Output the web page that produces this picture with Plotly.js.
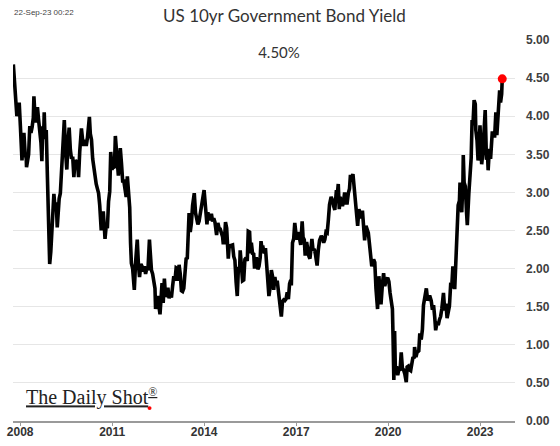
<!DOCTYPE html>
<html>
<head>
<meta charset="utf-8">
<script src="https://cdn.plot.ly/plotly-3.0.1.min.js"></script>
<style>html,body{margin:0;padding:0;background:#fff;}#chart{width:560px;height:446px;}</style>
</head>
<body>
<div id="chart"></div>
<script>
// US 10yr Government Bond Yield, approx. semi-monthly readings (%)
const dates = [
"2007-10-12","2007-10-26","2007-11-09","2007-11-23","2007-12-07","2007-12-21",
"2008-01-04","2008-01-18","2008-01-23","2008-02-01","2008-02-15","2008-02-29","2008-03-14","2008-03-17","2008-03-28","2008-04-11","2008-04-25","2008-05-09","2008-05-23","2008-06-06","2008-06-13","2008-06-27","2008-07-11","2008-07-25","2008-08-08","2008-08-22","2008-09-05","2008-09-16","2008-09-26","2008-10-10","2008-10-14","2008-10-24","2008-11-07","2008-11-21","2008-12-05","2008-12-18","2008-12-31",
"2009-01-09","2009-01-23","2009-02-06","2009-02-20","2009-03-06","2009-03-18","2009-03-27","2009-04-10","2009-04-24","2009-05-08","2009-05-22","2009-06-10","2009-06-26","2009-07-10","2009-07-24","2009-08-07","2009-08-21","2009-09-04","2009-09-18","2009-10-02","2009-10-16","2009-10-30","2009-11-13","2009-11-27","2009-12-11","2009-12-31",
"2010-01-15","2010-01-29","2010-02-12","2010-02-26","2010-03-12","2010-03-26","2010-04-05","2010-04-16","2010-04-30","2010-05-14","2010-05-28","2010-06-11","2010-06-25","2010-07-09","2010-07-23","2010-08-06","2010-08-24","2010-09-03","2010-09-17","2010-10-01","2010-10-08","2010-10-22","2010-11-05","2010-11-19","2010-12-03","2010-12-15","2010-12-31",
"2011-01-14","2011-01-28","2011-02-08","2011-02-18","2011-03-04","2011-03-16","2011-04-01","2011-04-08","2011-04-22","2011-05-06","2011-05-20","2011-06-03","2011-06-17","2011-07-01","2011-07-15","2011-07-29","2011-08-08","2011-08-18","2011-09-02","2011-09-22","2011-10-07","2011-10-27","2011-11-10","2011-11-23","2011-12-09","2011-12-23",
"2012-01-06","2012-01-20","2012-02-03","2012-02-17","2012-03-02","2012-03-20","2012-03-30","2012-04-13","2012-04-27","2012-05-11","2012-05-25","2012-06-01","2012-06-15","2012-06-29","2012-07-13","2012-07-24","2012-08-03","2012-08-17","2012-08-31","2012-09-14","2012-09-28","2012-10-12","2012-10-26","2012-11-09","2012-11-23","2012-12-07","2012-12-21",
"2013-01-04","2013-01-18","2013-02-01","2013-02-15","2013-03-01","2013-03-08","2013-03-22","2013-04-05","2013-04-19","2013-05-03","2013-05-17","2013-05-31","2013-06-14","2013-06-24","2013-07-05","2013-07-19","2013-08-02","2013-08-16","2013-09-05","2013-09-20","2013-10-04","2013-10-18","2013-11-01","2013-11-15","2013-12-06","2013-12-31",
"2014-01-10","2014-01-24","2014-02-03","2014-02-14","2014-02-28","2014-03-14","2014-03-28","2014-04-11","2014-04-25","2014-05-09","2014-05-29","2014-06-13","2014-06-27","2014-07-11","2014-07-25","2014-08-08","2014-08-15","2014-08-29","2014-09-12","2014-09-26","2014-10-15","2014-10-24","2014-11-07","2014-11-21","2014-12-05","2014-12-19",
"2015-01-02","2015-01-16","2015-01-30","2015-02-13","2015-02-27","2015-03-06","2015-03-20","2015-04-03","2015-04-17","2015-05-01","2015-05-15","2015-05-29","2015-06-10","2015-06-26","2015-07-07","2015-07-17","2015-07-31","2015-08-14","2015-08-24","2015-09-04","2015-09-18","2015-10-02","2015-10-16","2015-10-30","2015-11-09","2015-11-20","2015-12-04","2015-12-18",
"2016-01-01","2016-01-15","2016-01-29","2016-02-11","2016-02-26","2016-03-11","2016-03-25","2016-04-08","2016-04-22","2016-05-06","2016-05-20","2016-06-03","2016-06-17","2016-06-27","2016-07-08","2016-07-22","2016-08-05","2016-08-19","2016-09-02","2016-09-16","2016-09-30","2016-10-14","2016-10-28","2016-11-04","2016-11-18","2016-12-02","2016-12-15","2016-12-30",
"2017-01-13","2017-01-27","2017-02-10","2017-02-24","2017-03-13","2017-03-24","2017-04-07","2017-04-18","2017-05-05","2017-05-19","2017-06-02","2017-06-14","2017-06-30","2017-07-07","2017-07-21","2017-08-04","2017-08-18","2017-09-07","2017-09-22","2017-10-06","2017-10-27","2017-11-10","2017-11-24","2017-12-08","2017-12-22",
"2018-01-05","2018-01-19","2018-02-02","2018-02-21","2018-03-09","2018-03-23","2018-04-06","2018-04-25","2018-05-04","2018-05-17","2018-05-29","2018-06-08","2018-06-22","2018-07-06","2018-07-20","2018-08-01","2018-08-17","2018-08-31","2018-09-14","2018-09-28","2018-10-09","2018-10-19","2018-11-08","2018-11-21","2018-12-07","2018-12-21",
"2019-01-03","2019-01-18","2019-02-01","2019-02-15","2019-03-01","2019-03-15","2019-03-27","2019-04-12","2019-04-26","2019-05-10","2019-05-24","2019-06-07","2019-06-20","2019-07-12","2019-07-26","2019-08-09","2019-08-28","2019-09-13","2019-09-27","2019-10-08","2019-10-25","2019-11-08","2019-11-22","2019-12-06","2019-12-27",
"2020-01-10","2020-01-24","2020-02-07","2020-02-21","2020-02-28","2020-03-09","2020-03-18","2020-03-27","2020-04-10","2020-04-24","2020-05-08","2020-05-22","2020-06-05","2020-06-19","2020-07-03","2020-07-17","2020-08-04","2020-08-14","2020-08-28","2020-09-11","2020-09-25","2020-10-09","2020-10-23","2020-11-06","2020-11-11","2020-11-27","2020-12-11","2020-12-31",
"2021-01-12","2021-01-29","2021-02-12","2021-02-25","2021-03-12","2021-03-31","2021-04-16","2021-04-30","2021-05-14","2021-05-28","2021-06-11","2021-06-25","2021-07-09","2021-07-20","2021-08-06","2021-08-20","2021-09-03","2021-09-17","2021-10-01","2021-10-21","2021-11-05","2021-11-19","2021-12-03","2021-12-17","2021-12-31",
"2022-01-14","2022-01-28","2022-02-10","2022-02-25","2022-03-04","2022-03-18","2022-04-01","2022-04-14","2022-04-29","2022-05-06","2022-05-20","2022-05-27","2022-06-10","2022-06-14","2022-06-24","2022-07-08","2022-07-22","2022-08-01","2022-08-19","2022-09-02","2022-09-16","2022-09-27","2022-10-07","2022-10-21","2022-11-04","2022-11-10","2022-11-25","2022-12-07","2022-12-16","2022-12-30",
"2023-01-13","2023-01-19","2023-02-03","2023-02-17","2023-03-02","2023-03-17","2023-03-31","2023-04-06","2023-04-21","2023-05-05","2023-05-19","2023-05-26","2023-06-09","2023-06-23","2023-07-07","2023-07-19","2023-08-04","2023-08-21","2023-09-01","2023-09-14","2023-09-21"
];
const yields = [
4.68,4.40,4.22,4.00,4.10,4.18,
3.87,3.65,3.42,3.60,3.78,3.52,3.44,3.33,3.45,3.50,3.87,3.78,3.86,3.98,4.26,3.98,3.92,4.12,3.95,3.83,3.65,3.41,3.85,3.87,4.05,3.70,3.82,3.20,2.56,2.06,2.22,
2.39,2.62,2.98,2.79,2.87,2.54,2.76,2.92,2.99,3.28,3.45,3.95,3.52,3.30,3.66,3.85,3.56,3.44,3.47,3.20,3.42,3.40,3.42,3.20,3.54,3.84,
3.68,3.61,3.69,3.61,3.71,3.86,3.99,3.77,3.69,3.44,3.30,3.24,3.11,3.05,2.99,2.83,2.50,2.70,2.75,2.52,2.39,2.56,2.53,2.88,3.01,3.53,3.30,
3.33,3.32,3.74,3.58,3.49,3.22,3.45,3.58,3.38,3.15,3.15,3.00,2.94,3.21,2.91,2.80,2.34,2.07,2.00,1.72,2.08,2.38,2.05,1.89,2.06,2.03,
1.96,2.03,1.93,2.00,1.98,2.38,2.21,1.98,1.93,1.84,1.74,1.47,1.59,1.64,1.49,1.40,1.57,1.81,1.55,1.87,1.63,1.66,1.75,1.61,1.69,1.62,1.77,
1.90,1.84,2.01,2.00,1.84,2.05,1.93,1.71,1.70,1.74,1.95,2.13,2.14,2.55,2.73,2.48,2.60,2.83,2.99,2.73,2.65,2.58,2.62,2.70,2.86,3.03,
2.86,2.72,2.58,2.74,2.65,2.65,2.72,2.62,2.66,2.61,2.44,2.60,2.53,2.52,2.47,2.42,2.34,2.34,2.61,2.53,2.13,2.27,2.30,2.31,2.31,2.16,
2.11,1.83,1.64,2.02,2.00,2.24,1.93,1.84,1.85,2.12,2.14,2.10,2.49,2.48,2.20,2.34,2.20,2.19,2.00,2.13,2.13,1.99,2.03,2.14,2.36,2.26,2.27,2.20,
2.27,2.03,1.92,1.64,1.76,1.98,1.90,1.72,1.89,1.78,1.84,1.70,1.61,1.46,1.37,1.57,1.59,1.58,1.60,1.69,1.60,1.80,1.85,1.78,2.34,2.39,2.60,2.45,
2.38,2.48,2.41,2.31,2.62,2.41,2.38,2.17,2.35,2.24,2.16,2.13,2.30,2.39,2.24,2.26,2.19,2.04,2.25,2.37,2.43,2.40,2.34,2.38,2.48,
2.47,2.64,2.84,2.94,2.90,2.82,2.77,3.03,2.95,3.11,2.78,2.94,2.89,2.82,2.89,3.00,2.86,2.86,2.99,3.05,3.23,3.19,3.24,3.06,2.85,2.79,
2.56,2.78,2.69,2.66,2.76,2.59,2.37,2.56,2.50,2.47,2.32,2.08,2.03,2.12,2.08,1.74,1.47,1.90,1.68,1.53,1.80,1.94,1.77,1.84,1.88,
1.83,1.68,1.58,1.47,1.13,0.54,1.18,0.68,0.72,0.60,0.68,0.66,0.90,0.69,0.67,0.62,0.51,0.71,0.72,0.67,0.66,0.78,0.84,0.82,0.97,0.84,0.90,0.92,
1.15,1.07,1.20,1.52,1.63,1.74,1.58,1.63,1.63,1.58,1.46,1.52,1.36,1.19,1.30,1.26,1.33,1.37,1.47,1.68,1.45,1.54,1.35,1.41,1.51,
1.78,1.77,2.03,1.96,1.73,2.15,2.38,2.83,2.89,3.13,2.79,2.74,3.16,3.49,3.13,3.08,2.75,2.57,2.98,3.19,3.45,3.95,3.88,4.21,4.16,3.82,3.68,3.42,3.48,3.88,
3.51,3.37,3.53,3.82,4.08,3.43,3.47,3.29,3.57,3.44,3.68,3.80,3.74,3.74,4.05,3.75,4.04,4.34,4.18,4.29,4.49
];
const yTicks = [0,0.5,1,1.5,2,2.5,3,3.5,4,4.5,5];
const yTickText = ["0.00","0.50","1.00","1.50","2.00","2.50","3.00","3.50","4.00","4.50","5.00"];
const xTicks = ["2008-01-01","2011-01-01","2014-01-01","2017-01-01","2020-01-01","2023-01-01"];
const xTickText = ["2008","2011","2014","2017","2020","2023"];
const titleText = "US 10yr Government Bond Yield";
const stampText = "22-Sep-23 00:22";
const lastLabel = "4.50%";

const lastDate = dates[dates.length-1];
const lastVal = yields[yields.length-1];

const traces = [
  {x: dates, y: yields, type: 'scatter', mode: 'lines',
   line: {color: '#000000', width: 3.6}, hoverinfo: 'skip'},
  {x: [lastDate], y: [lastVal], type: 'scatter', mode: 'markers',
   marker: {color: '#ff0000', size: 9}, hoverinfo: 'skip'}
];

const layout = {
  width: 560, height: 446,
  margin: {l: 13, r: 45, t: 40, b: 25},
  paper_bgcolor: '#ffffff', plot_bgcolor: '#ffffff',
  showlegend: false,
  font: {family: 'Liberation Sans, Arial, sans-serif', color: '#333'},
  title: {text: titleText, x: 0.508, xanchor: 'center', y: 0.964, yanchor: 'middle',
          font: {family: 'Lato, Open Sans, sans-serif', size: 17, color: '#333'}},
  xaxis: {
    type: 'date', range: ['2007-10-08', '2024-02-20'],
    tickvals: xTicks, ticktext: xTickText,
    showgrid: false, zeroline: false,
    showline: true, linecolor: '#9a9a9a', linewidth: 2,
    ticks: 'outside', ticklen: 3, tickcolor: '#9a9a9a', tickwidth: 1,
    ticklabelstandoff: -4,
    tickfont: {family: 'Liberation Sans, Arial, sans-serif', size: 12, color: '#333', weight: 'bold'}
  },
  yaxis: {
    side: 'right', range: [0, 5], tickvals: yTicks, ticktext: yTickText,
    showgrid: true, gridcolor: '#e6e6e6', gridwidth: 1,
    zeroline: false, showline: false, ticks: '',
    ticklabelstandoff: 10,
    tickfont: {family: 'Liberation Sans, Arial, sans-serif', size: 12, color: '#404040', weight: 'bold'}
  },
  annotations: [
    {text: stampText, xref: 'paper', yref: 'paper', x: -0.001, y: 1.072, xanchor: 'left', yanchor: 'middle',
     showarrow: false, font: {family: 'Liberation Sans Narrow, Liberation Sans, sans-serif', size: 8, color: '#444'}},
    {text: lastLabel, xref: 'paper', yref: 'paper', x: 0.529, y: 0.969, xanchor: 'center', yanchor: 'middle',
     showarrow: false, bgcolor: '#ffffff', width: 112, height: 30,
     font: {family: 'Lato, Open Sans, sans-serif', size: 15, color: '#333'}},
    {text: 'The Daily Shot<sup><span style="font-size:12px">®</span></sup>', xref: 'paper', yref: 'paper', x: 0.021, y: 0.063, xanchor: 'left', yanchor: 'middle',
     showarrow: false,
     font: {family: 'Liberation Serif, DejaVu Serif, serif', size: 20, color: '#222', lineposition: 'under'}}
  ],
  shapes: [
    {type: 'circle', xref: 'paper', yref: 'paper', x0: 0.268, x1: 0.276, y0: 0.029, y1: 0.039,
     fillcolor: '#ff0000', line: {width: 0}}
  ]
};

Plotly.newPlot('chart', traces, layout, {staticPlot: true, displayModeBar: false});
</script>
</body>
</html>
